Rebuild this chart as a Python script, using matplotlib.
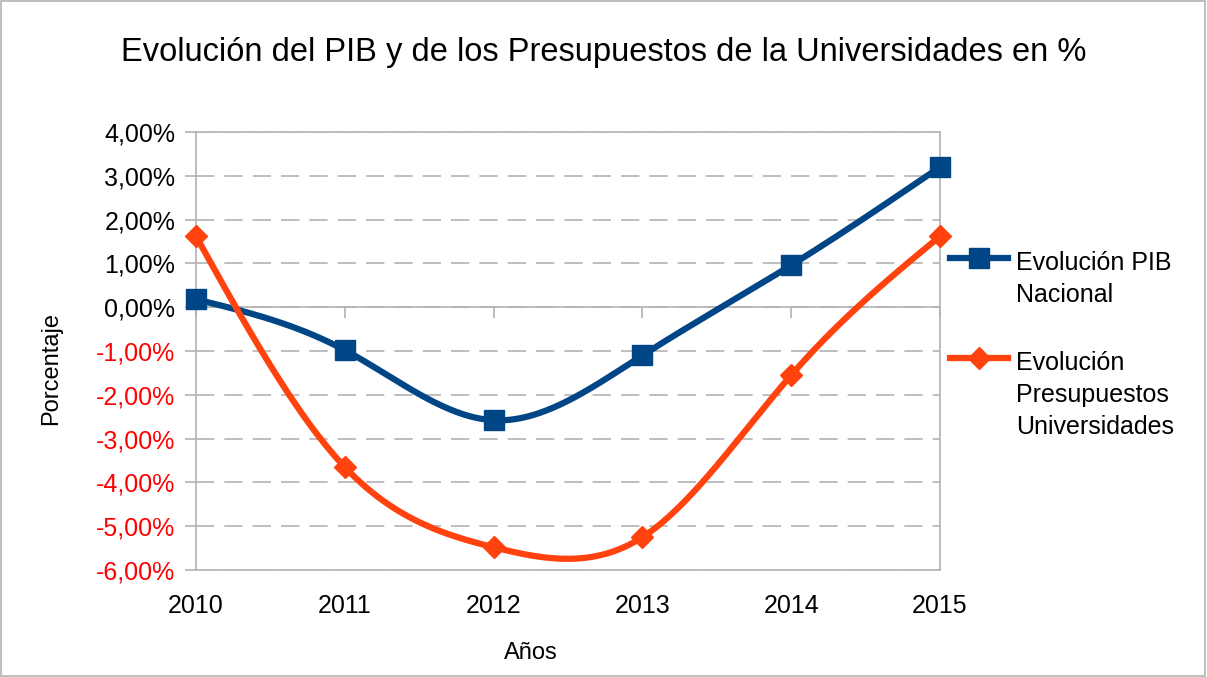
import numpy as np
import matplotlib
matplotlib.use("Agg")
import matplotlib.pyplot as plt
from matplotlib.patches import Rectangle
from matplotlib.lines import Line2D
from matplotlib.ticker import FuncFormatter

# Datos (en %)
years = [2010, 2011, 2012, 2013, 2014, 2015]
pib = [0.18, -0.98, -2.58, -1.10, 0.96, 3.20]
presupuestos = [1.62, -3.65, -5.48, -5.25, -1.55, 1.62]

label_pib = "Evolución PIB\nNacional"
label_pres = "Evolución\nPresupuestos\nUniversidades"

BLUE = "#004586"
ORANGE = "#ff420e"
GRID = "#b3b3b3"


def natural_spline(x, y, n=300):
    """Curva suave tipo spline cúbica natural (como LibreOffice)."""
    x = np.asarray(x, float)
    y = np.asarray(y, float)
    k = len(x)
    h = np.diff(x)
    A = np.zeros((k, k))
    b = np.zeros(k)
    A[0, 0] = A[-1, -1] = 1.0
    for i in range(1, k - 1):
        A[i, i - 1] = h[i - 1]
        A[i, i] = 2 * (h[i - 1] + h[i])
        A[i, i + 1] = h[i]
        b[i] = 6 * ((y[i + 1] - y[i]) / h[i] - (y[i] - y[i - 1]) / h[i - 1])
    M = np.linalg.solve(A, b)
    xs = np.linspace(x[0], x[-1], n)
    idx = np.clip(np.searchsorted(x, xs) - 1, 0, k - 2)
    x0, x1 = x[idx], x[idx + 1]
    hh = x1 - x0
    ys = (M[idx] * (x1 - xs) ** 3 / (6 * hh) + M[idx + 1] * (xs - x0) ** 3 / (6 * hh)
          + (y[idx] / hh - M[idx] * hh / 6) * (x1 - xs)
          + (y[idx + 1] / hh - M[idx + 1] * hh / 6) * (xs - x0))
    return xs, ys


plt.rcParams['font.family'] = ['Liberation Sans', 'DejaVu Sans']

fig = plt.figure(figsize=(12.07, 6.77), dpi=100)
fig.patches.append(Rectangle((0.001, 0.002), 0.997, 0.996, transform=fig.transFigure,
                             fill=False, edgecolor="#b3b3b3", linewidth=1.2))
ax = fig.add_axes([0.1624, 0.158, 0.6164, 0.647])

# Curvas suavizadas + marcadores
xs, ys = natural_spline(years, pib)
ax.plot(xs, ys, color=BLUE, linewidth=4.5, zorder=3, solid_capstyle='round')
ax.plot(years, pib, linestyle='none', marker='s', markersize=15, color=BLUE, zorder=4,
        clip_on=False)
xs, ys = natural_spline(years, presupuestos)
ax.plot(xs, ys, color=ORANGE, linewidth=4.5, zorder=3, solid_capstyle='round')
ax.plot(years, presupuestos, linestyle='none', marker='D', markersize=11, color=ORANGE, zorder=4,
        clip_on=False)

ax.set_xlim(2010, 2015)
ax.set_ylim(-6, 4)
ax.set_xticks(years)
ax.set_yticks(np.arange(-6, 5, 1))
ax.yaxis.set_major_formatter(FuncFormatter(lambda v, p: f"{v:.2f}%".replace(".", ",")))
for lbl, v in zip(ax.get_yticklabels(), np.arange(-6, 5, 1)):
    lbl.set_color("#ff0000" if v < 0 else "black")

ax.tick_params(axis='y', direction='out', length=8, color=GRID, width=1.2, labelsize=18, pad=7)
ax.tick_params(axis='x', length=0, labelsize=18, pad=17)
for s in ax.spines.values():
    s.set_color(GRID)
    s.set_linewidth(1.2)

ax.grid(axis='y', color=GRID, linewidth=1.2, dashes=(11, 6))
ax.set_axisbelow(True)

# Eje X cruzando en 0 (con marcas hacia abajo)
sec = ax.secondary_xaxis(0.6)
sec.set_alignment('bottom')
sec.set_xticks(years)
sec.set_xticklabels([])
sec.tick_params(direction='out', length=8, color=GRID, width=1.2)
for s in sec.spines.values():
    s.set_color(GRID)
    s.set_linewidth(1.2)

fig.text(0.5, 0.922, "Evolución del PIB y de los Presupuestos de la Universidades en %",
         ha='center', va='center', fontsize=23.5)
fig.text(0.44, 0.035, "Años", ha='center', va='center', fontsize=17)
fig.text(0.042, 0.455, "Porcentaje", ha='center', va='center', fontsize=17, rotation=90)

# Leyenda a mano: el símbolo queda a la altura de la primera línea del texto
for color, marker, msize, label, ytop in [(BLUE, 's', 15, label_pib, 0.619),
                                          (ORANGE, 'D', 11, label_pres, 0.471)]:
    fig.add_artist(Line2D([0.787, 0.835], [ytop, ytop], transform=fig.transFigure,
                          color=color, lw=4.5))
    fig.add_artist(Line2D([0.811], [ytop], transform=fig.transFigure, color=color,
                          marker=marker, markersize=msize))
    fig.text(0.842, ytop + 0.0105, label, ha='left', va='top', fontsize=18, linespacing=1.42)

fig.savefig("out.png", dpi=100)
